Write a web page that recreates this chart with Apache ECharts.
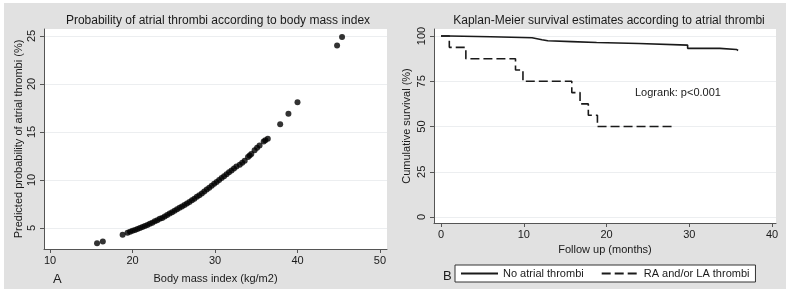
<!DOCTYPE html>
<html>
<head>
<meta charset="utf-8">
<script src="https://cdn.jsdelivr.net/npm/echarts@6/dist/echarts.min.js"></script>
<style>
  html, body { margin: 0; padding: 0; background: #fff; }
  #chart { width: 789px; height: 294px; }
</style>
</head>
<body>
<div id="chart"></div>
<script>
// Panel A: predicted probability vs BMI
const bmi = [15.7, 16.4, 18.8,
  19.4, 19.7, 20.0, 20.3, 20.6, 20.9, 21.2, 21.5, 21.8, 22.1, 22.4, 22.7, 23.0, 23.3, 23.6, 23.9,
  24.2, 24.5, 24.8, 25.1, 25.4, 25.7, 26.0, 26.3, 26.6, 26.9, 27.2, 27.5, 27.8, 28.1, 28.4, 28.7,
  29.0, 29.3, 29.6, 29.9, 30.2, 30.5, 30.8, 31.1, 31.4, 31.7, 32.0, 32.3, 32.6, 33.0, 33.3, 33.6,
  34.0, 34.2, 34.4, 34.8, 35.1, 35.4, 35.9, 36.1, 36.4, 37.9, 38.9, 40.0, 44.8, 45.4];
const prob = [3.4, 3.6, 4.3,
  4.5, 4.6, 4.7, 4.8, 4.9, 5.0, 5.1, 5.2, 5.3, 5.45, 5.55, 5.7, 5.8, 5.95, 6.05, 6.2,
  6.35, 6.5, 6.65, 6.8, 6.95, 7.1, 7.25, 7.4, 7.55, 7.7, 7.9, 8.05, 8.25, 8.4, 8.6, 8.8,
  9.0, 9.2, 9.4, 9.6, 9.8, 10.0, 10.2, 10.4, 10.6, 10.8, 11.0, 11.2, 11.4, 11.6, 11.8, 12.0,
  12.4, 12.55, 12.7, 13.1, 13.35, 13.6, 14.0, 14.15, 14.3, 15.8, 16.9, 18.1, 24.0, 24.9];

// Panel B: Kaplan-Meier steps
const timeNo = [0, 1, 6, 11, 12.2, 12.9, 15.8, 18.8, 23.9, 29.8, 33.7, 35.7, 35.9];
const survNo = [100, 99.6, 99.1, 98.0, 97.4, 96.9, 96.4, 95.9, 95.0, 93.2, 92.6, 92.0, 92.0];
const timeThr = [0, 1, 3, 9, 9.9, 15.8, 16.8, 17.8, 18.9, 27.9];
const survThr = [100, 93.75, 87.5, 81.25, 75, 68.75, 62.5, 56.25, 50, 50];

const bmiTicks = [10, 20, 30, 40, 50];
const probTicks = [5, 10, 15, 20, 25];
const monthTicks = [0, 10, 20, 30, 40];
const survTicks = [0, 25, 50, 75, 100];

const seriesNames = ['No atrial thrombi', 'RA and/or LA thrombi'];

const font = 'Liberation Sans';
const ink = '#1a1a1a';
const axisCol = '#555';

const chart = echarts.init(document.getElementById('chart'));

const baseX = (grid, min, max, ticks, name, gap) => ({
  type: 'value', gridIndex: grid, min: min, max: max,
  name: name, nameLocation: 'middle', nameGap: gap,
  nameTextStyle: { color: ink, fontSize: 11, fontFamily: font },
  axisLine: { show: true, onZero: false, lineStyle: { color: axisCol, width: 1 } },
  axisTick: { show: true, length: 4, customValues: ticks, lineStyle: { color: axisCol } },
  axisLabel: { customValues: ticks, color: ink, fontSize: 11, fontFamily: font, margin: 6 },
  splitLine: { show: false }
});

const baseY = (grid, min, max, ticks, name, gap) => ({
  type: 'value', gridIndex: grid, min: min, max: max,
  name: name, nameLocation: 'middle', nameGap: gap,
  nameTextStyle: { color: ink, fontSize: 11, fontFamily: font },
  axisLine: { show: true, onZero: false, lineStyle: { color: axisCol, width: 1 } },
  axisTick: { show: true, length: 4, customValues: ticks, lineStyle: { color: axisCol } },
  axisLabel: { customValues: ticks, rotate: 90, color: ink, fontSize: 11, fontFamily: font, margin: 7 },
  splitLine: { show: true, lineStyle: { color: '#eceef0', width: 1 } }
});

const option = {
  backgroundColor: '#fff',
  animation: false,
  graphic: [
    { type: 'rect', shape: { x: 4, y: 3, width: 782, height: 286 }, style: { fill: '#e1e1e1' }, z: -10 },
    { type: 'text', left: 53, top: 273, style: { text: 'A', fill: ink, font: '13px ' + font } },
    { type: 'text', left: 443, top: 270, style: { text: 'B', fill: ink, font: '13px ' + font } },
    { type: 'text', left: 635, top: 87, style: { text: 'Logrank: p<0.001', fill: ink, font: '11px ' + font } }
  ],
  title: [
    { text: 'Probability of atrial thrombi according to body mass index', left: 213, top: 10, textAlign: 'center',
      textStyle: { color: ink, fontSize: 12, fontWeight: 'normal', fontFamily: font } },
    { text: 'Kaplan-Meier survival estimates according to atrial thrombi', left: 604, top: 10, textAlign: 'center',
      textStyle: { color: ink, fontSize: 12, fontWeight: 'normal', fontFamily: font } }
  ],
  legend: {
    data: seriesNames,
    left: 455, top: 265,
    padding: [3, 6, 3, 5],
    itemWidth: 37, itemHeight: 8, itemGap: 17,
    backgroundColor: '#fff', borderColor: '#333', borderWidth: 1,
    itemStyle: { opacity: 0 },
    textStyle: { color: ink, fontSize: 11, fontFamily: font },
    selectedMode: false
  },
  grid: [
    { left: 44, right: 402, top: 29, bottom: 45, show: true, backgroundColor: '#fff', borderWidth: 0 },
    { left: 434, right: 13, top: 29, bottom: 71, show: true, backgroundColor: '#fff', borderWidth: 0 }
  ],
  xAxis: [
    baseX(0, 9.27, 50.85, bmiTicks, 'Body mass index (kg/m2)', 24),
    baseX(1, -0.85, 40.48, monthTicks, 'Follow up (months)', 19)
  ],
  yAxis: [
    baseY(0, 2.81, 25.73, probTicks, 'Predicted probability of atrial thrombi (%)', 20),
    baseY(1, -3.3, 103.9, survTicks, 'Cumulative survival (%)', 22)
  ],
  series: [
    {
      type: 'scatter', xAxisIndex: 0, yAxisIndex: 0,
      symbolSize: 6,
      itemStyle: { color: '#000' },
      data: bmi.map((b, i) => [b, prob[i]])
    },
    {
      name: seriesNames[0], type: 'line', xAxisIndex: 1, yAxisIndex: 1,
      step: 'end', symbol: 'none',
      lineStyle: { color: '#1a1a1a', width: 1.6 },
      itemStyle: { color: '#1a1a1a' },
      data: timeNo.map((t, i) => [t, survNo[i]])
    },
    {
      name: seriesNames[1], type: 'line', xAxisIndex: 1, yAxisIndex: 1,
      step: 'end', symbol: 'none',
      lineStyle: { color: '#1a1a1a', width: 1.6, type: [9, 4] },
      itemStyle: { color: '#1a1a1a' },
      data: timeThr.map((t, i) => [t, survThr[i]])
    }
  ]
};

chart.setOption(option);
</script>
</body>
</html>
